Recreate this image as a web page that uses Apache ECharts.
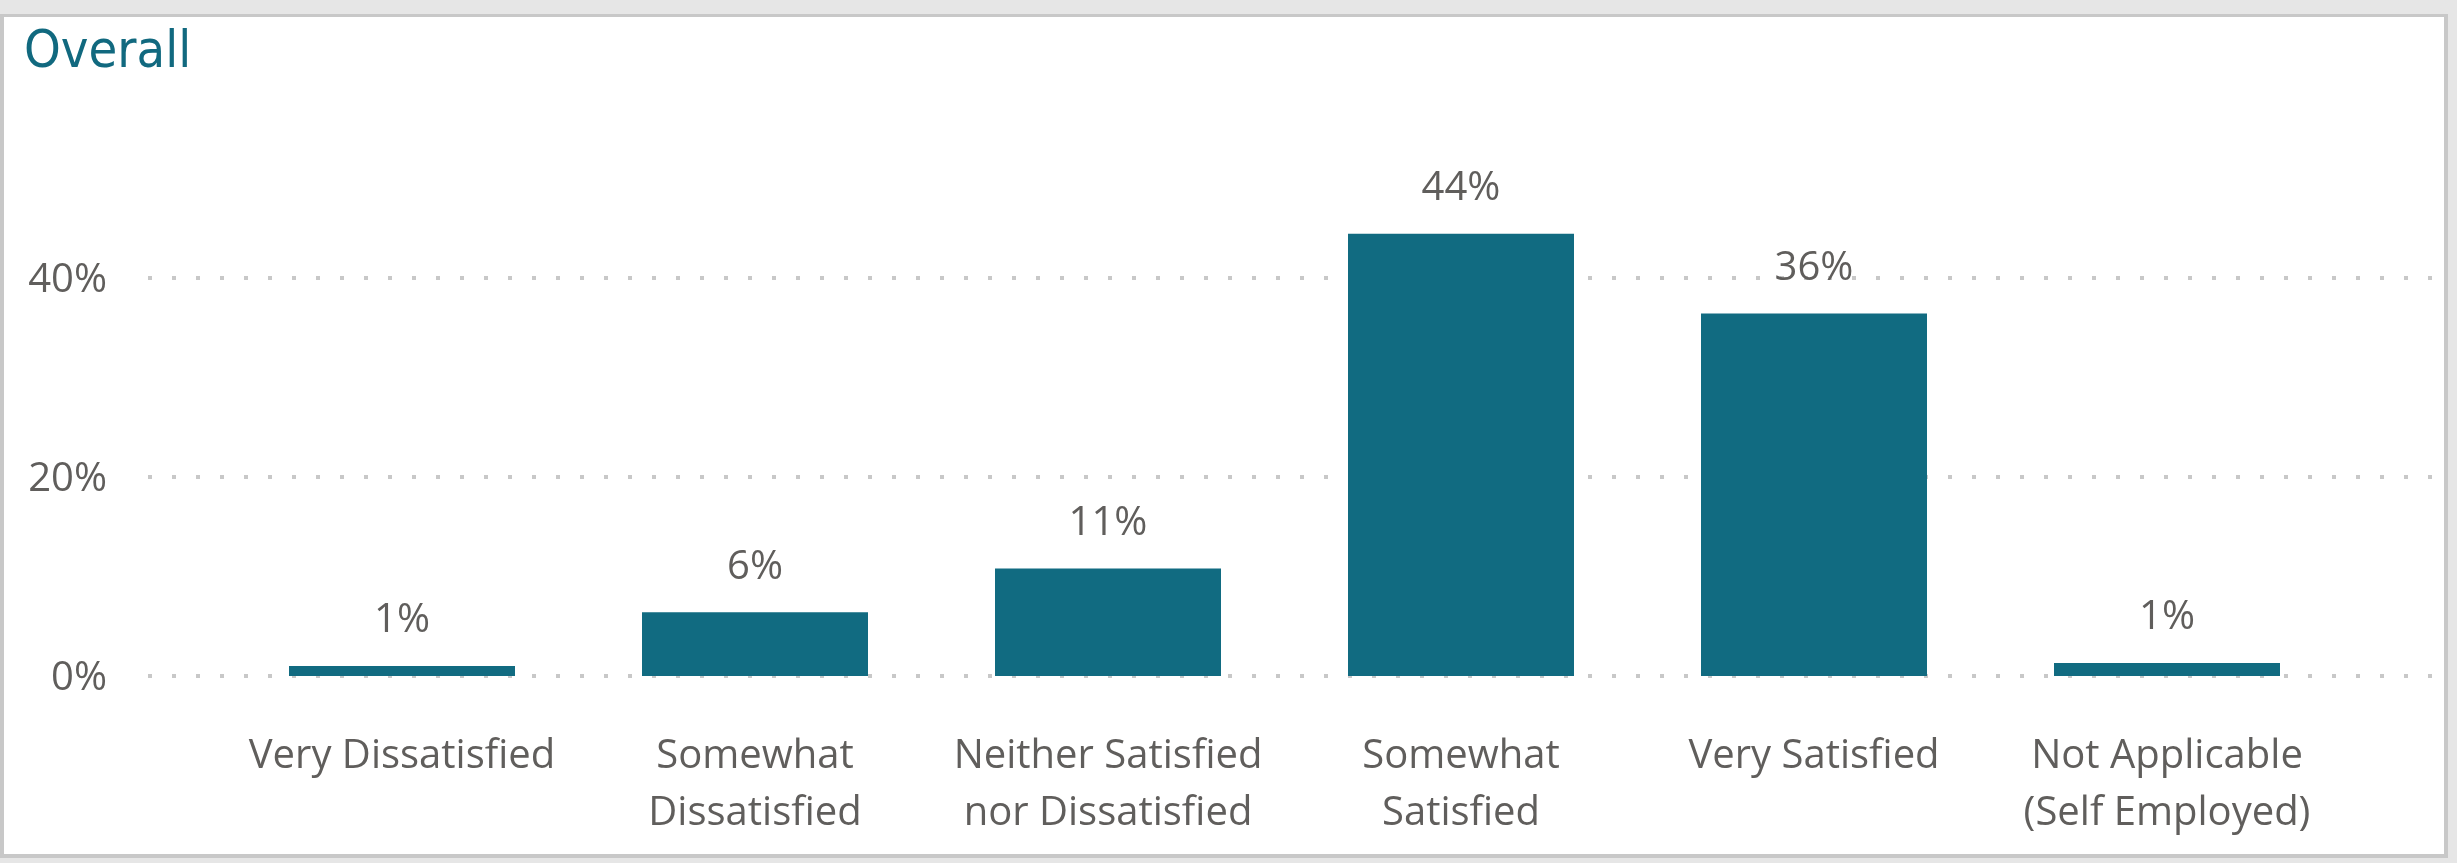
<!DOCTYPE html>
<html>
<head>
<meta charset="utf-8">
<script src="https://cdn.jsdelivr.net/npm/echarts@6/dist/echarts.min.js"></script>
<style>
html,body{margin:0;padding:0;background:#e6e6e6;}
#chart{width:2457px;height:863px;}
</style>
</head>
<body>
<div id="chart"></div>
<script>
const titleText = 'Overall';
const categories = [
  'Very Dissatisfied',
  'Somewhat\nDissatisfied',
  'Neither Satisfied\nnor Dissatisfied',
  'Somewhat\nSatisfied',
  'Very Satisfied',
  'Not Applicable\n(Self Employed)'
];
const values = [1.0, 6.4, 10.8, 44.4, 36.4, 1.3];
const yTicks = { min: 0, max: 50, interval: 20 };

const textColor = '#605e5c';
const barColor = '#116b81';
const labelFont = '"Open Sans", "Noto Sans", sans-serif';

const chart = echarts.init(document.getElementById('chart'), null, { renderer: 'canvas' });
chart.setOption({
  backgroundColor: '#e6e6e6',
  animation: false,
  graphic: [
    { type: 'rect', z: -10, silent: true, shape: { x: 0, y: 14, width: 2448, height: 844 }, style: { fill: '#c8c8c8' } },
    { type: 'rect', z: -9, silent: true, shape: { x: 4, y: 17, width: 2440, height: 837 }, style: { fill: '#ffffff' } }
  ],
  title: {
    text: titleText,
    left: 19,
    top: 22,
    textStyle: { fontFamily: '"DejaVu Sans Condensed", "DejaVu Sans", sans-serif', fontSize: 52, fontWeight: 500, color: '#11697f' }
  },
  grid: [
    { left: 148, right: 23, top: 178, bottom: 187 },
    { left: 225.5, right: 113.5, top: 178, bottom: 187 }
  ],
  xAxis: [
    { gridIndex: 0, type: 'value', show: false, min: 0, max: 1 },
    {
      gridIndex: 1, type: 'category', data: categories,
      axisLine: { show: false }, axisTick: { show: false },
      axisLabel: { interval: 0, margin: 52, color: textColor, fontFamily: labelFont, fontSize: 40, lineHeight: 57 }
    }
  ],
  yAxis: [
    {
      gridIndex: 0, type: 'value', min: yTicks.min, max: yTicks.max, interval: yTicks.interval,
      axisLine: { show: false }, axisTick: { show: false },
      axisLabel: {
        showMaxLabel: false, margin: 41, color: textColor, fontFamily: labelFont, fontSize: 40,
        formatter: v => '{v|' + v + '%}',
        rich: { v: { color: textColor, fontFamily: labelFont, fontSize: 40, padding: [6, 0, 0, 0] } }
      },
      splitLine: { show: true, showMaxLine: false, lineStyle: { color: '#c8c8c8', width: 4, type: [4, 20] } }
    },
    {
      gridIndex: 1, type: 'value', min: yTicks.min, max: yTicks.max, interval: yTicks.interval, show: false,
      splitLine: { show: false }
    }
  ],
  series: [{
    type: 'bar',
    xAxisIndex: 1, yAxisIndex: 1,
    data: values,
    barWidth: 226,
    itemStyle: { color: barColor },
    label: {
      show: true, position: 'top', distance: 25,
      color: textColor, fontFamily: labelFont, fontSize: 40,
      formatter: p => Math.round(p.value) + '%'
    }
  }]
});
</script>
</body>
</html>
